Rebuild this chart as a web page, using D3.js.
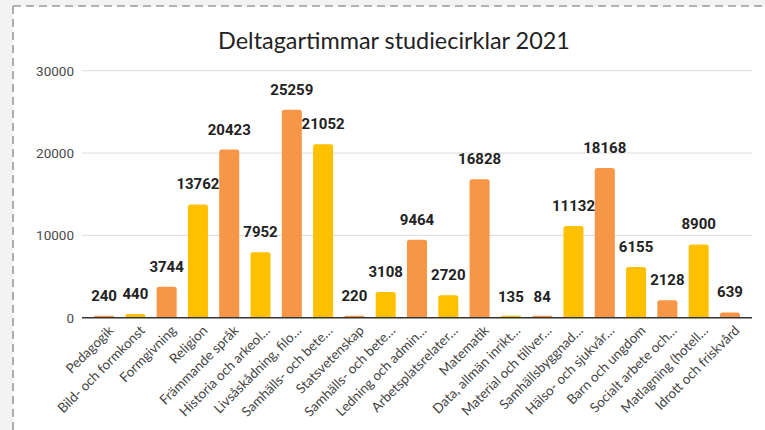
<!DOCTYPE html>
<html><head><meta charset="utf-8">
<script src="https://cdn.jsdelivr.net/npm/d3@7"></script>
<style>
html,body{margin:0;padding:0;background:#f3f3f3;overflow:hidden;}
svg{display:block;}
</style></head>
<body>
<svg id="chart" width="765" height="430"></svg>
<script>
const title = "Deltagartimmar studiecirklar 2021";
const categories = [
  "Pedagogik","Bild- och formkonst","Formgivning","Religion","Främmande språk",
  "Historia och arkeol…","Livsåskådning, filo…","Samhälls- och bete…","Statsvetenskap",
  "Samhälls- och bete… ","Ledning och admin…","Arbetsplatsrelater…","Matematik",
  "Data, allmän inrikt…","Material och tillver…","Samhällsbyggnad…","Hälso- och sjukvår…",
  "Barn och ungdom","Socialt arbete och…","Matlagning (hotell…","Idrott och friskvård"
];
const values = [240,440,3744,13762,20423,7952,25259,21052,220,3108,9464,2720,16828,135,84,11132,18168,6155,2128,8900,639];
const yTicks = [0,10000,20000,30000];
const colors = ["#F79646","#FFC000"];

const svg = d3.select("#chart");
// panel (white area with dashed top and left edges)
svg.append("rect").attr("x",13).attr("y",6).attr("width",752).attr("height",424).attr("fill","#fff");
svg.append("line").attr("x1",13).attr("x2",765).attr("y1",6).attr("y2",6)
  .attr("stroke","#9a9a9a").attr("stroke-width",1.6).attr("stroke-dasharray","8,5");
svg.append("line").attr("x1",13).attr("x2",13).attr("y1",6).attr("y2",430)
  .attr("stroke","#9a9a9a").attr("stroke-width",1.6).attr("stroke-dasharray","8,5");

const x = d3.scaleBand().domain(categories).range([88.4,745.6]).paddingInner(0.36).paddingOuter(0.18);
const y = d3.scaleLinear().domain([0,30000]).range([317.7,70.7]);

// gridlines
svg.append("g").selectAll("line").data(yTicks.filter(d=>d>0)).join("line")
  .attr("x1",82).attr("x2",752).attr("y1",d=>y(d)).attr("y2",d=>y(d))
  .attr("stroke","#dcdcdc").attr("stroke-width",1);

// y tick labels
const yAxis = d3.axisLeft(y).tickValues(yTicks).tickSize(0).tickPadding(8).tickFormat(d3.format("d"));
const gy = svg.append("g").attr("transform","translate(82,0)").call(yAxis);
gy.select(".domain").remove();
gy.selectAll("text").attr("font-family","Roboto, sans-serif").attr("font-size",13.5).attr("fill","#4a4a4a");

// bars with rounded tops (tiny values kept visible as thin slivers)
const r = 2.5, minH = 2;
svg.append("g").selectAll("path").data(values).join("path")
  .attr("fill",(d,i)=>colors[i%2])
  .attr("d",(d,i)=>{
    const x0 = x(categories[i]), w = x.bandwidth(), y0 = y(0);
    const y1 = Math.min(y(d), y0 - minH);
    const h = y0 - y1; const rr = Math.min(r, h/2, w/2);
    return `M${x0},${y0}V${y1+rr}Q${x0},${y1} ${x0+rr},${y1}H${x0+w-rr}Q${x0+w},${y1} ${x0+w},${y1+rr}V${y0}Z`;
  });

// baseline axis
const xAxis = d3.axisBottom(x).tickSize(0).tickFormat("");
const gx = svg.append("g").attr("transform",`translate(0,${y(0)})`).call(xAxis);
gx.select(".domain").remove();
svg.append("line").attr("x1",82).attr("x2",752).attr("y1",y(0)).attr("y2",y(0))
  .attr("stroke","#333").attr("stroke-width",1.4);

// data labels
svg.append("g").selectAll("text").data(values).join("text")
  .attr("x",(d,i)=>x(categories[i])+x.bandwidth()/2)
  .attr("y",d=>y(d)-15)
  .attr("text-anchor","middle")
  .attr("font-family","Roboto, sans-serif").attr("font-weight","bold").attr("font-size",15)
  .attr("fill","#222").text(d=>d);

// category labels
svg.append("g").selectAll("text").data(categories).join("text")
  .attr("transform",d=>`translate(${x(d)+x.bandwidth()/2+7},328) rotate(-45)`)
  .attr("text-anchor","end").attr("dy","0.35em")
  .attr("font-family","Lato, sans-serif").attr("font-size",13.5)
  .attr("fill","#444").text(d=>d.trim());

// title
const t = svg.append("text").attr("x",394).attr("y",49).attr("text-anchor","middle")
  .attr("font-family","Lato, sans-serif").attr("font-size",22).attr("fill","#222").text(title);
const w = t.node().getComputedTextLength();
t.attr("font-size", 22*352/w);
</script>
</body></html>
